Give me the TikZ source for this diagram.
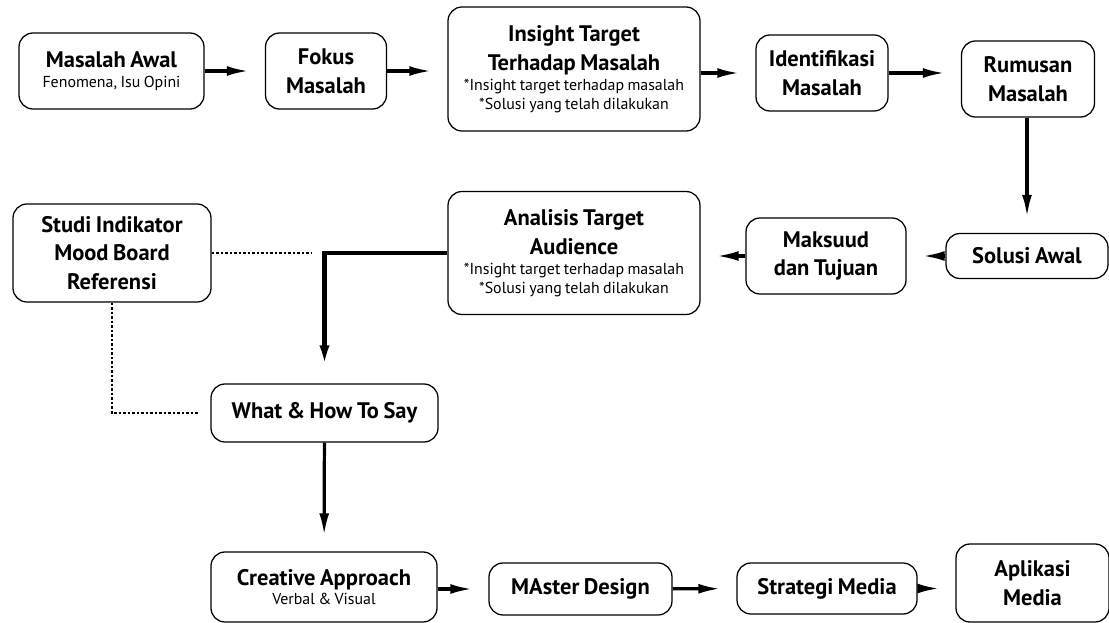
\documentclass[tikz,border=0pt]{standalone}
\usepackage{fontspec}
\setmainfont{PT Sans}[WordSpace=0.8]
\usetikzlibrary{arrows.meta}
\newcommand{\sub}{\fontsize{11.3}{13.5}\selectfont\mdseries}

\begin{document}
\begin{tikzpicture}
  [
  x=0.025cm, y=-0.025cm,
  font=\fontsize{16}{20.5}\selectfont\bfseries, line width=0.9pt,
  block/.style={draw=black, rounded corners=0.35cm, align=center, inner sep=0pt},
  boxsize/.style 2 args={minimum width=#1*0.025cm, minimum height=#2*0.025cm},
  flow/.style={-{Latex[length=16pt,width=7pt]}, line width=2.3pt, shorten >=11pt},
  refline/.style={dash pattern=on 1.8pt off 1.4pt, line width=1.2pt}
  ]

\useasboundingbox (0,0) rectangle (1109,623);

\node[block, boxsize={185}{76}] (awal) at (111.5,71)
  {Masalah Awal\\[-6.5pt]{\sub Fenomena, Isu Opini}};
\node[block, boxsize={121}{76}] (fokus) at (326,71) {Fokus\\Masalah};
\node[block, boxsize={252}{124}] (insight) at (574,69)
  {Insight Target\\Terhadap Masalah\\[-6.5pt]{\sub *Insight target terhadap masalah}\\[-7pt]{\sub *Solusi yang telah dilakukan}};
\node[block, boxsize={132}{76}] (identif) at (822,73) {Identifikasi\\Masalah};
\node[block, boxsize={133}{76}] (rumusan) at (1028,79) {Rumusan\\Masalah};

\node[block, boxsize={162}{45}] (solusi) at (1027,256) {Solusi Awal};
\node[block, boxsize={160}{76}] (maksud) at (826,256) {Maksuud\\dan Tujuan};
\node[block, boxsize={252}{123}] (analisis) at (574,253)
  {Analisis Target\\Audience\\[-6.5pt]{\sub *Insight target terhadap masalah}\\[-7pt]{\sub *Solusi yang telah dilakukan}};
\node[block, boxsize={198}{98}] (studi) at (112,253) {Studi Indikator\\Mood Board\\Referensi};

\node[block, boxsize={227}{58}] (what) at (324.5,413) {What \& How To Say};

\node[block, boxsize={226}{70}] (creative) at (324,587)
  {Creative Approach\\[-6.5pt]{\sub Verbal \& Visual}};
\node[block, boxsize={183}{52}] (master) at (580.5,589) {MAster Design};
\node[block, boxsize={180}{51}] (strategi) at (827,588.5) {Strategi Media};
\node[block, boxsize={153}{78}] (aplikasi) at (1032.5,583) {Aplikasi\\Media};

\coordinate (dotend) at (312,253);

\draw[flow] (awal) -- (fokus);
\draw[flow] (fokus) -- (insight.west |- fokus);
\draw[flow] (insight.east |- identif) -- (identif);
\draw[flow] (identif) -- (rumusan.west |- identif);
\draw[flow] (rumusan.south -| solusi) -- (solusi);
\draw[flow] (solusi) -- (maksud);
\draw[flow] (maksud.west) -- (analisis.east |- maksud);
\draw[flow, line width=3pt] (analisis.west) -| (what);
\draw[flow] (what) -- (creative);
\draw[flow] (creative.east |- master) -- (master);
\draw[flow] (master) -- (strategi);
\draw[flow] (strategi) -- (aplikasi.west |- strategi);

\draw[refline] (studi) -- (dotend);
\draw[refline, shorten >=9pt] (studi) |- (what);

\end{tikzpicture}
\end{document}
